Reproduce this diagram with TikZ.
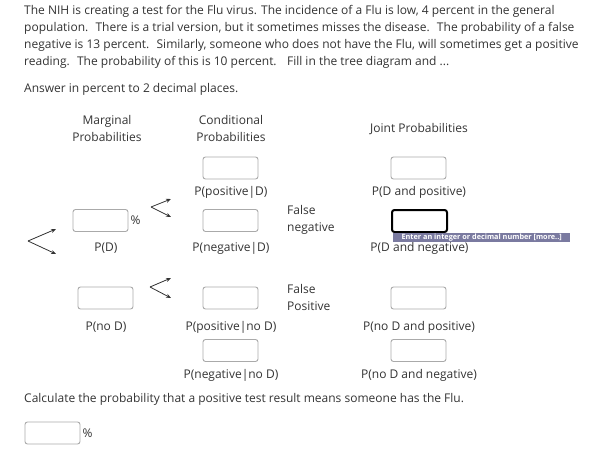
\documentclass[tikz,border=0pt]{standalone}
\usepackage{fontspec}
\setmainfont{Open Sans}
\usepackage{tikz}
\usetikzlibrary{arrows.meta}
\usetikzlibrary{positioning}
\definecolor{txt}{RGB}{51,51,51}
\definecolor{boxline}{RGB}{170,170,170}
\definecolor{tipbg}{RGB}{122,122,160}
\tikzstyle{plain} = [inner sep=0pt, text=txt, font=\fontsize{12}{17}\selectfont]
\tikzstyle{head} = [plain, align=center]
\tikzstyle{inbox} = [rectangle, rounded corners=2.5pt, draw=boxline, line width=0.9pt, minimum width=55pt, minimum height=22pt, inner sep=0pt]
\tikzstyle{active} = [inbox, draw=black, line width=2pt]
\tikzstyle{lbl} = [plain]
\tikzstyle{arrow} = [txt, line width=0.8pt, -{Stealth[length=5pt,width=4pt]}]

\begin{document}
\begin{tikzpicture}[x=1pt, y=1pt]
\useasboundingbox (0,0) rectangle (595,-463);

\node (intro) [plain, anchor=north west, align=left] at (24,-5) {The NIH is creating a test for the Flu virus. The incidence of a Flu is low, 4 percent in the general\\
population.~ There is a trial version, but it sometimes misses the disease.~ The probability of a false\\
negative is 13 percent.~ Similarly, someone who does not have the Flu, will sometimes get a positive\\
reading.~ The probability of this is 10 percent.~~ Fill in the tree diagram and ...};
\node (answer) [plain, anchor=west] at (24,-89) {Answer in percent to 2 decimal places.};

\node (hmarg) [head] at (107,-128) {Marginal\\Probabilities};
\node (hcond) [head] at (231,-128) {Conditional\\Probabilities};
\node (hjoint) [head] at (419,-129) {Joint Probabilities};

% marginal
\node (bpd) [inbox] at (100.5,-220.5) {};
\node (pcd) [lbl, right=2pt of bpd] {\%};
\node (lpd) [lbl] at (106,-248) {P(D)};
\node (bnd) [inbox] at (105.5,-298) {};
\node (lnd) [lbl] at (106,-327) {P(no D)};

% conditional
\node (bposd) [inbox] at (230.5,-168) {};
\node (lposd) [lbl] at (231,-192) {P(positive|D)};
\node (bnegd) [inbox] at (230.5,-220.5) {};
\node (lnegd) [lbl] at (231,-248) {P(negative|D)};
\node (bposnd) [inbox] at (230.5,-298) {};
\node (lposnd) [lbl] at (231,-327) {P(positive|no D)};
\node (bnegnd) [inbox] at (230.5,-350.5) {};
\node (lnegnd) [lbl] at (231,-375) {P(negative|no D)};

\node (fneg) [plain, anchor=west, align=left] at (287,-220) {False\\negative};
\node (fpos) [plain, anchor=west, align=left] at (287,-297.5) {False\\Positive};

% joint
\node (bjpos) [inbox] at (418.5,-168) {};
\node (ljpos) [lbl] at (419,-192) {P(D and positive)};
\node (bjneg) [active] at (419.5,-221) {};
\node (ljneg) [lbl] at (419.5,-248) {P(D and negative)};
\node (tip) [anchor=north west, fill=tipbg, text=white, minimum width=177pt, minimum height=9pt, inner sep=0pt, font=\fontsize{7.3}{8}\selectfont\bfseries] at (393,-233) {Enter an integer or decimal number [more..]};
\node (bjnpos) [inbox] at (418.5,-298) {};
\node (ljnpos) [lbl] at (419,-327) {P(no D and positive)};
\node (bjnneg) [inbox] at (418.5,-350.5) {};
\node (ljnneg) [lbl] at (419,-375) {P(no D and negative)};

% question
\node (calc) [plain, anchor=west] at (24,-399) {Calculate the probability that a positive test result means someone has the Flu.};
\node (bans) [inbox] at (52.5,-433) {};
\node (pcans) [lbl, right=2pt of bans] {\%};

% branches
\coordinate (v0) at (28,-241);
\coordinate (v0a) at (56,-229);
\coordinate (v0b) at (56,-254);
\coordinate (v1) at (151,-207);
\coordinate (v1a) at (171,-199);
\coordinate (v1b) at (171,-217);
\coordinate (v2) at (150,-287);
\coordinate (v2a) at (171,-278);
\coordinate (v2b) at (171,-298);

\draw [arrow] (v0) -- (v0a);
\draw [arrow] (v0) -- (v0b);
\draw [arrow] (v1) -- (v1a);
\draw [arrow] (v1) -- (v1b);
\draw [arrow] (v2) -- (v2a);
\draw [arrow] (v2) -- (v2b);
\end{tikzpicture}
\end{document}
